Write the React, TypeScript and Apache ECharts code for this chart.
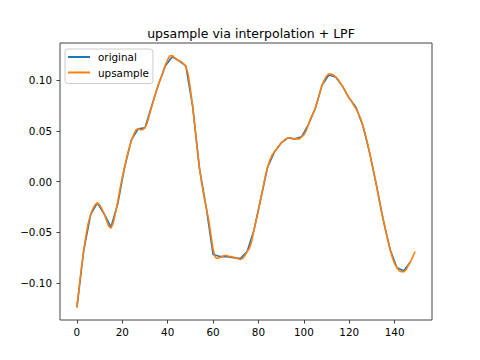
import React, { useEffect, useRef } from "react";
import * as echarts from "echarts";

const TITLE = "upsample via interpolation + LPF";
const SERIES_NAMES = ["original", "upsample"];
const ORIGINAL_STEP = 3;
const originalValues = [
  -0.124, -0.068, -0.033, -0.021, -0.032, -0.045, -0.022, 0.014, 0.041, 0.052,
  0.053, 0.075, 0.096, 0.114, 0.123, 0.119, 0.114, 0.074, 0.013, -0.026,
  -0.072, -0.074, -0.074, -0.075, -0.076, -0.069, -0.048, -0.017, 0.014, 0.029,
  0.038, 0.043, 0.042, 0.044, 0.056, 0.072, 0.095, 0.105, 0.103, 0.094,
  0.082, 0.073, 0.055, 0.028, -0.004, -0.038, -0.067, -0.085, -0.088, -0.079,
];
const upsampleValues = [
  -0.124, -0.104, -0.085, -0.068, -0.053, -0.041, -0.033, -0.027, -0.023, -0.021,
  -0.023, -0.027, -0.032, -0.038, -0.044, -0.046, -0.041, -0.031, -0.02, -0.007,
  0.004, 0.014, 0.024, 0.033, 0.04, 0.046, 0.051, 0.052, 0.051, 0.051,
  0.053, 0.058, 0.066, 0.074, 0.082, 0.089, 0.096, 0.102, 0.108, 0.115,
  0.12, 0.124, 0.124, 0.122, 0.12, 0.119, 0.118, 0.116, 0.113, 0.106,
  0.091, 0.074, 0.054, 0.032, 0.013, -0.002, -0.015, -0.026, -0.037, -0.052,
  -0.067, -0.075, -0.076, -0.075, -0.074, -0.073, -0.073, -0.074, -0.074, -0.075,
  -0.075, -0.076, -0.077, -0.076, -0.073, -0.069, -0.066, -0.059, -0.048, -0.038,
  -0.028, -0.017, -0.006, 0.005, 0.014, 0.021, 0.026, 0.029, 0.032, 0.035,
  0.038, 0.04, 0.042, 0.043, 0.043, 0.042, 0.042, 0.042, 0.042, 0.044,
  0.046, 0.05, 0.056, 0.062, 0.067, 0.072, 0.079, 0.087, 0.095, 0.1,
  0.104, 0.106, 0.106, 0.105, 0.103, 0.101, 0.097, 0.094, 0.09, 0.086,
  0.082, 0.079, 0.075, 0.072, 0.067, 0.062, 0.055, 0.047, 0.038, 0.028,
  0.017, 0.007, -0.004, -0.016, -0.028, -0.038, -0.048, -0.058, -0.067, -0.075,
  -0.081, -0.085, -0.088, -0.089, -0.089, -0.087, -0.083, -0.079, -0.074, -0.069,
];
const xTicks = [0, 20, 40, 60, 80, 100, 120, 140];
const yTicks = [-0.1, -0.05, 0, 0.05, 0.1];
const X_MIN = -7.45;
const X_MAX = 156.45;
const Y_MIN = -0.1365;
const Y_MAX = 0.1365;

const FONT = "DejaVu Sans";
const FRAME = "#444";

export default function App() {
  const ref = useRef<HTMLDivElement>(null);
  useEffect(() => {
    if (!ref.current) return;
    const chart = echarts.init(ref.current, undefined, { renderer: "svg" });
    const fmtY = (v: number) =>
      v < 0 ? "\u2212" + Math.abs(v).toFixed(2) : Math.abs(v).toFixed(2);
    chart.setOption({
      animation: false,
      backgroundColor: "#ffffff",
      title: {
        text: TITLE,
        left: 246,
        top: 22,
        textAlign: "center",
        textStyle: { fontFamily: FONT, fontSize: 12.5, fontWeight: "normal", color: "#000" },
      },
      legend: {
        orient: "vertical",
        left: 65,
        top: 49,
        padding: [1, 4, 4, 3],
        itemGap: 1.5,
        itemWidth: 22,
        itemHeight: 2,
        backgroundColor: "rgba(255,255,255,0.8)",
        borderColor: "#cccccc",
        borderWidth: 1,
        borderRadius: 3,
        data: SERIES_NAMES.map((n) => ({ name: n, icon: "rect" })),
        textStyle: {
          fontFamily: FONT,
          fontSize: 10.4,
          color: "#000",
          lineHeight: 14,
          padding: [0, 0, 0, 3],
        },
      },
      grid: {
        left: 60,
        right: 48,
        top: 43,
        bottom: 40,
        show: true,
        borderColor: FRAME,
        borderWidth: 1,
        backgroundColor: "transparent",
      },
      xAxis: {
        type: "value",
        min: X_MIN,
        max: X_MAX,
        splitLine: { show: false },
        axisLine: { show: false, onZero: false },
        axisTick: {
          show: true,
          length: 3.6,
          lineStyle: { color: FRAME, width: 1 },
          customValues: xTicks,
        },
        axisLabel: {
          customValues: xTicks,
          margin: 7,
          fontFamily: FONT,
          fontSize: 10.4,
          color: "#000",
          formatter: (v: number) => String(Math.round(v)),
        },
      },
      yAxis: {
        type: "value",
        min: Y_MIN,
        max: Y_MAX,
        splitLine: { show: false },
        axisLine: { show: false, onZero: false },
        axisTick: {
          show: true,
          length: 3.6,
          lineStyle: { color: FRAME, width: 1 },
          customValues: yTicks,
        },
        axisLabel: {
          customValues: yTicks,
          margin: 8,
          fontFamily: FONT,
          fontSize: 10.4,
          color: "#000",
          formatter: fmtY,
        },
      },
      series: [
        {
          name: SERIES_NAMES[0],
          type: "line",
          symbol: "none",
          data: originalValues.map((v, i) => [i * ORIGINAL_STEP, v]),
          lineStyle: { color: "#1f77b4", width: 1.6 },
          itemStyle: { color: "#1f77b4" },
        },
        {
          name: SERIES_NAMES[1],
          type: "line",
          symbol: "none",
          data: upsampleValues.map((v, i) => [i, v]),
          lineStyle: { color: "#ff7f0e", width: 1.6 },
          itemStyle: { color: "#ff7f0e" },
        },
      ],
    });
    return () => chart.dispose();
  }, []);
  return (
    <div
      ref={ref}
      style={{ position: "absolute", left: 0, top: 0, width: 480, height: 360 }}
    />
  );
}
